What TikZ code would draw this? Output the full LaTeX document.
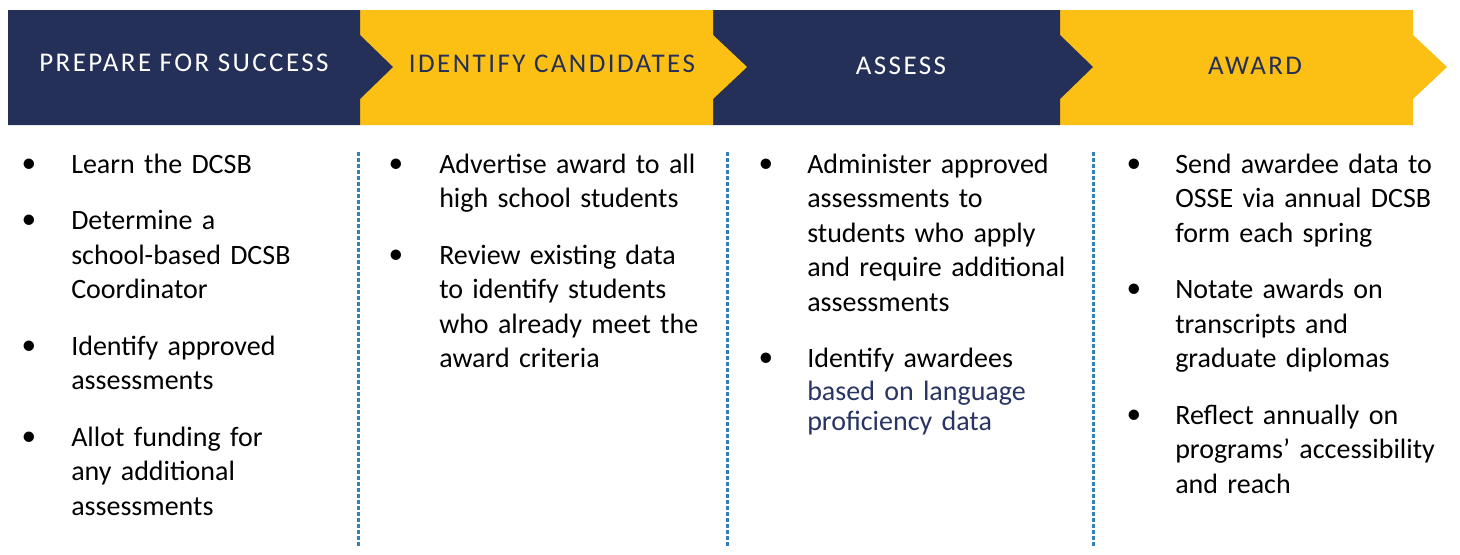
\documentclass[tikz,border=0pt]{standalone}
\usepackage{fontspec}
\setmainfont{Carlito}
\newfontfamily\headfont[LetterSpace=9]{Carlito}
\definecolor{navy}{RGB}{37,48,89}
\definecolor{gold}{RGB}{252,191,20}
\definecolor{dashblue}{RGB}{50,130,185}
\definecolor{navytext}{RGB}{40,52,100}
\begin{document}
\begin{tikzpicture}[x=0.75pt,y=-0.75pt,
  hd/.style={font=\headfont\fontsize{20.25pt}{24pt}\selectfont, inner sep=0pt, anchor=base},
  item/.style={font=\fontsize{21pt}{25.875pt}\selectfont, inner sep=0pt, anchor=base west, text width=300pt, align=left},
  bul/.style={font=\fontsize{22pt}{25.875pt}\selectfont, inner sep=0pt, anchor=base},
  sepline/.style={dashblue, line width=1.6pt, dash pattern=on 3pt off 1.5pt}]
\useasboundingbox[fill=white] (0,0) rectangle (1460,554);
% header chevrons (drawn right to left so each tip lies on top)
\fill[gold] (1060,10) -- (1413,10) -- (1413,35) -- (1447,67) -- (1413,99) -- (1413,125) -- (1060,125) -- cycle;
\fill[navy] (713,10) -- (1060,10) -- (1060,35) -- (1093,67) -- (1060,99) -- (1060,125) -- (713,125) -- cycle;
\fill[gold] (360,10) -- (713,10) -- (713,35) -- (747,67) -- (713,99) -- (713,125) -- (360,125) -- cycle;
\fill[navy] (8,10) -- (360,10) -- (360,35) -- (393,67) -- (360,99) -- (360,125) -- (8,125) -- cycle;
% header labels
\node[hd, text=white] (h1) at (184,71) {PREPARE FOR SUCCESS};
\node[hd, text=navy] (h2) at (552,72) {IDENTIFY CANDIDATES};
\node[hd, text=white] (h3) at (901,74) {ASSESS};
\node[hd, text=navy] (h4) at (1255,74) {AWARD};
% separators
\draw[sepline] (358.5,152) -- (358.5,548);
\draw[sepline] (727.5,152) -- (727.5,548);
\draw[sepline] (1093.5,152) -- (1093.5,548);
% column 1
\node[bul] (d11) at (29,172) {•};
\node[item] (t11) at (71,173) {Learn the DCSB};
\node[bul] (d12) at (29,228.5) {•};
\node[item] (t12) at (71,229.5) {Determine a\\school-based DCSB\\Coordinator};
\node[bul] (d13) at (29,354) {•};
\node[item] (t13) at (71,355) {Identify approved\\assessments};
\node[bul] (d14) at (29,445) {•};
\node[item] (t14) at (71,446) {Allot funding for\\any additional\\assessments};
% column 2
\node[bul] (d21) at (396,172) {•};
\node[item] (t21) at (439,173) {Advertise award to all\\high school students};
\node[bul] (d22) at (396,263) {•};
\node[item] (t22) at (439,264) {Review existing data\\to identify students\\who already meet the\\award criteria};
% column 3
\node[bul] (d31) at (766,172) {•};
\node[item] (t31) at (807,173) {Administer approved\\assessments to\\students who apply\\and require additional\\assessments};
\node[bul] (d32) at (766,366.5) {•};
\node[item] (t32) at (807,367.5) {Identify awardees};
\node[item, text=navytext] (t33) at (807,400) {based on language};
\node[item, text=navytext] (t34) at (807,430) {proficiency data};
% column 4
\node[bul] (d41) at (1134,172) {•};
\node[item] (t41) at (1175,173) {Send awardee data to\\OSSE via annual DCSB\\form each spring};
\node[bul] (d42) at (1134,297.5) {•};
\node[item] (t42) at (1175,298.5) {Notate awards on\\transcripts and\\graduate diplomas};
\node[bul] (d43) at (1134,423) {•};
\node[item] (t43) at (1175,424) {Reflect annually on\\programs’ accessibility\\and reach};
\end{tikzpicture}
\end{document}
